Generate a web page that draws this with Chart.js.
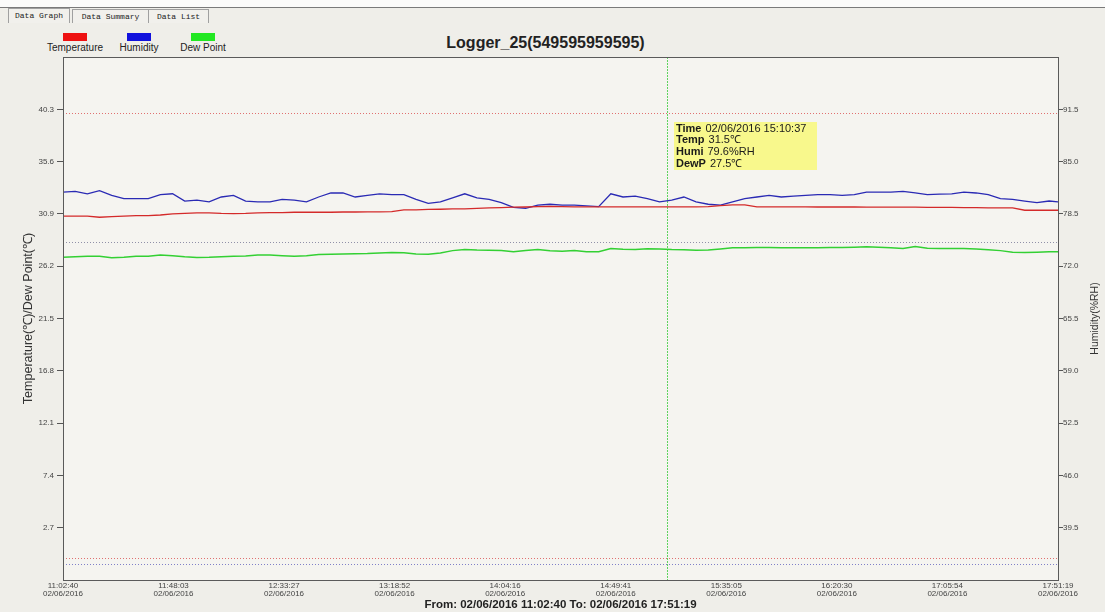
<!DOCTYPE html>
<html><head><meta charset="utf-8">
<script src="https://cdn.jsdelivr.net/npm/chart.js@4.4.1/dist/chart.umd.min.js"></script>
<style>
html,body{margin:0;padding:0;background:#efeee9;}
#wrap{position:relative;width:1105px;height:612px;overflow:hidden;font-family:"Liberation Sans",Arial,sans-serif;background:#efeee9;}
#topstrip{position:absolute;left:0;top:0;width:1105px;height:7px;background:#fbfbfa;}
#topline{position:absolute;left:0;top:7px;width:1105px;height:1px;background:#7a7a7a;}
.tab{position:absolute;top:9px;height:13px;border:1px solid #a0a0a0;border-bottom:none;font:8px "Liberation Mono",monospace;line-height:13px;text-align:center;color:#222;background:#f1f0ec;}
.lg{position:absolute;top:42px;font-size:10px;color:#222;text-align:center;white-space:nowrap;}
.sw{position:absolute;top:33px;width:24px;height:8px;}
#title{position:absolute;left:0;width:1091px;top:34px;text-align:center;font:bold 16px "Liberation Sans",Arial,sans-serif;color:#222;}
canvas{position:absolute;left:0;top:0;}
</style></head>
<body><div id="wrap">
<div id="topstrip"></div><div id="topline"></div>
<div class="tab" style="left:8px;width:60px;top:8px;height:14px;">Data Graph</div>
<div class="tab" style="left:72px;width:75px;">Data Summary</div>
<div class="tab" style="left:148px;width:59px;">Data List</div>
<div id="legend"></div>
<div id="title"></div>
<canvas id="c" width="1105" height="612"></canvas>
</div>
<script>
const times = ["11:02:40","11:07:40","11:12:40","11:17:40","11:22:40","11:27:40","11:32:40","11:37:40","11:42:40","11:47:40",
"11:52:40","11:57:40","12:02:40","12:07:40","12:12:40","12:17:40","12:22:40","12:27:40","12:32:40","12:37:40",
"12:42:40","12:47:40","12:52:40","12:57:40","13:02:40","13:07:40","13:12:40","13:17:40","13:22:40","13:27:40",
"13:32:40","13:37:40","13:42:40","13:47:40","13:52:40","13:57:40","14:02:40","14:07:40","14:12:40","14:17:40",
"14:22:40","14:27:40","14:32:40","14:37:40","14:42:40","14:47:40","14:52:40","14:57:40","15:02:40","15:07:40",
"15:12:40","15:17:40","15:22:40","15:27:40","15:32:40","15:37:40","15:42:40","15:47:40","15:52:40","15:57:40",
"16:02:40","16:07:40","16:12:40","16:17:40","16:22:40","16:27:40","16:32:40","16:37:40","16:42:40","16:47:40",
"16:52:40","16:57:40","17:02:40","17:07:40","17:12:40","17:17:40","17:22:40","17:27:40","17:32:40","17:37:40",
"17:42:40","17:47:40","17:51:19"];
const temperature = [30.7,30.7,30.7,30.6,30.65,30.7,30.75,30.75,30.8,30.9,
30.95,31.0,31.0,30.95,30.93,30.95,31.0,31.02,31.02,31.05,
31.05,31.05,31.05,31.07,31.07,31.08,31.08,31.1,31.26,31.27,
31.3,31.32,31.35,31.36,31.4,31.45,31.47,31.5,31.52,31.55,
31.57,31.55,31.53,31.53,31.53,31.53,31.53,31.53,31.53,31.53,
31.53,31.53,31.53,31.55,31.65,31.72,31.72,31.53,31.53,31.53,
31.53,31.53,31.52,31.52,31.52,31.52,31.5,31.5,31.5,31.5,
31.5,31.48,31.48,31.48,31.46,31.46,31.45,31.45,31.44,31.23,
31.23,31.23,31.23];
const humidity = [81.2,81.3,81.0,81.4,80.8,80.4,80.4,80.4,80.9,81.0,
80.1,80.2,80.0,80.6,80.8,80.1,80.0,80.0,80.3,80.2,
80.0,80.6,81.1,81.1,80.6,80.8,81.0,80.9,80.9,80.3,
79.8,80.0,80.5,81.0,80.5,80.3,79.9,79.3,79.2,79.6,
79.7,79.6,79.6,79.5,79.4,81.0,80.6,80.7,80.4,80.0,
80.2,80.6,80.0,79.7,79.6,80.0,80.4,80.6,80.8,80.6,
80.7,80.8,80.9,80.9,80.8,80.9,81.2,81.2,81.2,81.3,
81.1,80.9,80.95,81.0,81.2,81.1,80.9,80.4,80.3,80.1,
79.9,80.1,80.0];
const dewPoint = [27.0,27.05,27.1,27.1,26.95,27.0,27.1,27.1,27.2,27.15,
27.05,26.98,27.0,27.05,27.1,27.12,27.2,27.2,27.15,27.1,
27.15,27.25,27.28,27.3,27.33,27.34,27.38,27.43,27.4,27.3,
27.28,27.38,27.6,27.7,27.65,27.64,27.6,27.5,27.6,27.7,
27.58,27.55,27.6,27.5,27.5,27.78,27.72,27.7,27.76,27.75,
27.7,27.68,27.64,27.66,27.75,27.85,27.86,27.87,27.88,27.86,
27.85,27.85,27.86,27.88,27.88,27.9,27.94,27.9,27.85,27.8,
27.98,27.82,27.79,27.79,27.79,27.75,27.68,27.6,27.45,27.42,
27.45,27.5,27.5];
const xTickLabels = ["11:02:40","11:48:03","12:33:27","13:18:52","14:04:16","14:49:41","15:35:05","16:20:30","17:05:54","17:51:19"];
const dateLabel = "02/06/2016";
const tempTicks = [2.7,7.4,12.1,16.8,21.5,26.2,30.9,35.6,40.3];
const humiTicks = [39.5,46.0,52.5,59.0,65.5,72.0,78.5,85.0,91.5];
const tempAlarms = [0,40];
const humiAlarms = [35,75];
const cursorTime = "15:10:37";
const cursorTemp = 31.5, cursorHumi = 79.6, cursorDew = 27.5;
const seriesNames = ["Temperature","Humidity","Dew Point"];
const seriesColors = ["#d42a2a","#2a2ab4","#33d033"];
const legendColors = ["#ee1111","#1111dd","#22e822"];
const chartTitle = "Logger_25(549595959595)";
const leftTitle = "Temperature(\u2103)/Dew Point(\u2103)";
const rightTitle = "Humidity(%RH)";

function toSec(s){const p=s.split(':').map(Number);return p[0]*3600+p[1]*60+p[2];}

document.getElementById('title').textContent = chartTitle;
const lgPos = [[63,46],[127,118],[191,183]];
const lg = document.getElementById('legend');
seriesNames.forEach((n,i)=>{
  const sw=document.createElement('div');sw.className='sw';sw.style.left=lgPos[i][0]+'px';sw.style.background=legendColors[i];lg.appendChild(sw);
  const t=document.createElement('div');t.className='lg';t.style.left=(lgPos[i][0]+12)+'px';t.style.transform='translateX(-50%)';t.textContent=n;lg.appendChild(t);
});

const FONT = '"Liberation Sans", Arial, sans-serif';
const decor = {
  id:'decor',
  beforeDraw(chart){
    const {ctx, chartArea:a} = chart;
    ctx.save();ctx.fillStyle='#f5f4f0';ctx.fillRect(a.left,a.top,a.right-a.left,a.bottom-a.top);ctx.restore();
  },
  beforeDatasetsDraw(chart){
    const {ctx, chartArea:a, scales} = chart;
    ctx.save();
    ctx.lineWidth=1;ctx.setLineDash([1,2]);
    tempAlarms.forEach(v=>{const y=Math.round(scales.y.getPixelForValue(v))+0.5;ctx.strokeStyle='#e07070';ctx.beginPath();ctx.moveTo(a.left,y);ctx.lineTo(a.right,y);ctx.stroke();});
    humiAlarms.forEach((v,i)=>{const y=Math.round(scales.yH.getPixelForValue(v))+0.5;ctx.strokeStyle=i?'#9090a8':'#8080c8';ctx.beginPath();ctx.moveTo(a.left,y);ctx.lineTo(a.right,y);ctx.stroke();});
    ctx.restore();
    ctx.save();
    const cx=Math.round(scales.x.getPixelForValue(toSec(cursorTime)));
    ctx.fillStyle='#5fd35f';
    for(let y=Math.round(a.top);y<a.bottom;y+=3){ctx.fillRect(cx,y,1,2);}
    ctx.restore();
  },
  afterDraw(chart){
    const {ctx, chartArea:a, scales} = chart;
    ctx.save();
    ctx.strokeStyle='#5a5a5a';ctx.lineWidth=1;ctx.setLineDash([]);
    ctx.strokeRect(Math.round(a.left)+0.5,Math.round(a.top)+0.5,Math.round(a.right-a.left),Math.round(a.bottom-a.top));
    const cx=scales.x.getPixelForValue(toSec(cursorTime));
    const bx=Math.round(cx+7), by=Math.round(a.top+65);
    ctx.fillStyle='#f8f88c';ctx.fillRect(bx,by,143,48);
    const rows=[["Time",dateLabel+" "+cursorTime],["Temp",cursorTemp.toFixed(1)+"\u2103"],["Humi",cursorHumi.toFixed(1)+"%RH"],["DewP",cursorDew.toFixed(1)+"\u2103"]];
    ctx.textBaseline='middle';ctx.fillStyle='#1a1a1a';
    rows.forEach((r,i)=>{
      const y=by+6.5+i*11.7;
      ctx.font='bold 11px '+FONT;ctx.fillText(r[0],bx+2,y);
      const w=ctx.measureText(r[0]).width;
      ctx.font='11px '+FONT;ctx.fillText(r[1],bx+2+w+4,y);
    });
    ctx.translate(1095,(a.top+a.bottom)/2);ctx.rotate(-Math.PI/2);
    ctx.font='10.5px '+FONT;ctx.fillStyle='#333';ctx.textAlign='center';ctx.textBaseline='middle';
    ctx.fillText(rightTitle,0,0);
    ctx.restore();
  }
};

const xs = times.map(toSec);
const mk = (arr)=>arr.map((v,i)=>({x:xs[i],y:v}));
new Chart(document.getElementById('c'),{
  type:'line',
  data:{datasets:[
    {label:seriesNames[0],data:mk(temperature),borderColor:seriesColors[0],yAxisID:'y',borderWidth:1.3,pointRadius:0},
    {label:seriesNames[1],data:mk(humidity),borderColor:seriesColors[1],yAxisID:'yH',borderWidth:1.3,pointRadius:0},
    {label:seriesNames[2],data:mk(dewPoint),borderColor:seriesColors[2],yAxisID:'y',borderWidth:1.5,pointRadius:0}
  ]},
  options:{
    responsive:false,animation:false,
    layout:{padding:{top:57,left:0,right:0,bottom:0}},
    plugins:{legend:{display:false},tooltip:{enabled:false},title:{display:false}},
    scales:{
      x:{type:'linear',min:toSec(xTickLabels[0]),max:toSec(xTickLabels[xTickLabels.length-1]),
        afterBuildTicks:s=>{s.ticks=xTickLabels.map(t=>({value:toSec(t)}));},
        afterFit:s=>{s.height=32;},
        grid:{display:false,drawTicks:false},border:{display:false},
        ticks:{autoSkip:false,maxRotation:0,padding:1,color:'#444',font:{family:FONT,size:8,lineHeight:1.1},
          callback:(v,i)=>[xTickLabels[i],dateLabel]},
        title:{display:true,text:"From: "+dateLabel+" "+xTickLabels[0]+" To: "+dateLabel+" "+xTickLabels[xTickLabels.length-1],
          color:'#222',font:{family:FONT,size:11.5,weight:'bold'},padding:{top:0,bottom:0}}
      },
      y:{position:'left',min:-2,max:45,
        afterBuildTicks:s=>{s.ticks=tempTicks.map(v=>({value:v}));},
        afterFit:s=>{s.width=63;},
        grid:{drawOnChartArea:false,drawTicks:true,tickLength:6,color:'#555'},border:{display:false},
        ticks:{padding:3,color:'#444',font:{family:FONT,size:8},callback:v=>v.toFixed(1)},
        title:{display:true,text:leftTitle,color:'#333',font:{family:FONT,size:12.5},padding:{top:21,bottom:0}}
      },
      yH:{position:'right',min:33,max:98,
        afterBuildTicks:s=>{s.ticks=humiTicks.map(v=>({value:v}));},
        afterFit:s=>{s.width=47;},
        grid:{drawOnChartArea:false,drawTicks:true,tickLength:5,color:'#555'},border:{display:false},
        ticks:{padding:0,color:'#444',font:{family:FONT,size:8},callback:v=>v.toFixed(1)}
      }
    }
  },
  plugins:[decor]
});
</script>
</body></html>
